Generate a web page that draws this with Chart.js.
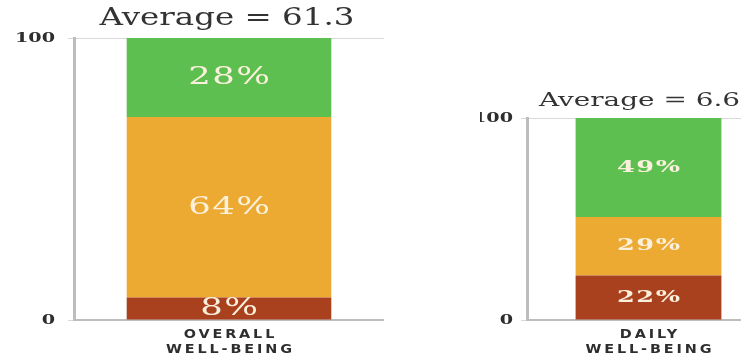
<!DOCTYPE html>
<html>
<head>
<meta charset="utf-8">
<script src="https://cdn.jsdelivr.net/npm/chart.js@4.4.1/dist/chart.umd.min.js"></script>
<style>
  html, body { margin: 0; padding: 0; background: #fff; overflow: hidden; }
  body { width: 741px; height: 357px; position: relative; }
  .box { position: absolute; top: 0; height: 357px; }
  #overall-box { left: 0; width: 384px; }
  #daily-box { left: 480px; width: 290px; }
</style>
</head>
<body>
<div class="box" id="overall-box"><canvas id="overall-chart"></canvas></div>
<div class="box" id="daily-box"><canvas id="daily-chart"></canvas></div>

<script>
// Share of respondents per band, bottom to top: low, middle, high
const bands = ['Low', 'Middle', 'High'];
const bandColors = ['#a9411e', '#ecaa32', '#5dbf4f'];

const overallValues = [8, 64, 28];
const overallLabel = ['OVERALL', 'WELL-BEING'];
const overallTitle = 'Average = 61.3';

const dailyValues = [22, 29, 49];
const dailyLabel = ['DAILY', 'WELL-BEING'];
const dailyTitle = 'Average = 6.6';

const yTicks = [0, 100];

// Draws text stretched horizontally around (x, y)
function stretchText(ctx, text, x, y, font, color, sx, spacing) {
    ctx.save();
    ctx.translate(x, y);
    ctx.scale(sx, 1);
    ctx.font = font;
    ctx.fillStyle = color;
    ctx.textAlign = 'center';
    ctx.textBaseline = 'middle';
    ctx.letterSpacing = (spacing || 0) + 'px';
    // letterSpacing adds a trailing gap, shift back by half of it
    ctx.fillText(text, (spacing || 0) / 2, 0);
    ctx.restore();
}

// Titles, tick numbers, category names and segment percentages
const textPlugin = {
    id: 'wellbeingText',
    afterDatasetsDraw(chart) {
        const ctx = chart.ctx;
        const s = chart.options.plugins.wellbeingText;
        chart.data.datasets.forEach((ds, i) => {
            const bar = chart.getDatasetMeta(i).data[0];
            const mid = (bar.y + bar.base) / 2;
            stretchText(ctx, ds.data[0] + '%', bar.x, mid, s.valueFont, '#fbf0dc', s.valueStretch, 1);
        });
    },
    afterDraw(chart) {
        const ctx = chart.ctx;
        const s = chart.options.plugins.wellbeingText;
        const area = chart.chartArea;
        const x = chart.scales.x;
        const y = chart.scales.y;
        const cx = x.getPixelForValue(0);

        stretchText(ctx, s.title, cx + s.titleShift, area.top - s.titleGap, s.titleFont, '#333', s.titleStretch, 0);

        yTicks.forEach(v => {
            const py = y.getPixelForValue(v);
            ctx.save();
            ctx.font = s.tickFont;
            const w = ctx.measureText(String(v)).width * s.tickStretch;
            ctx.restore();
            stretchText(ctx, String(v), area.left - s.tickGap - w / 2, py + 1, s.tickFont, '#2e2e2e', s.tickStretch, 0);
        });

        chart.data.labels[0].forEach((line, i) => {
            stretchText(ctx, line, cx, area.bottom + 15 + i * 15, 'bold 12px "DejaVu Sans"', '#2e2e2e', 1.2, 2.4);
        });
    }
};

function makeChart(id, values, label, opts) {
    const ctx = document.getElementById(id).getContext('2d');
    return new Chart(ctx, {
        type: 'bar',
        data: {
            labels: [label],
            datasets: bands.map((b, i) => ({
                label: b,
                data: [values[i]],
                backgroundColor: bandColors[i],
                borderWidth: 0,
                barPercentage: 1,
                categoryPercentage: opts.barShare
            }))
        },
        options: {
            responsive: true,
            maintainAspectRatio: false,
            animation: false,
            layout: { padding: { top: opts.top, right: 0, left: 0, bottom: 0 } },
            plugins: {
                legend: { display: false },
                tooltip: { enabled: false },
                title: { display: false },
                wellbeingText: opts.text
            },
            scales: {
                x: {
                    stacked: true,
                    ticks: { display: false },
                    grid: { display: false },
                    border: { color: '#bdbdbd', width: 2 },
                    afterFit: scale => { scale.height = 37; }
                },
                y: {
                    stacked: true,
                    min: 0,
                    max: 100,
                    afterBuildTicks: scale => { scale.ticks = yTicks.map(v => ({ value: v })); },
                    ticks: { display: false },
                    grid: { color: '#d9d9d9', lineWidth: 1, tickLength: 6 },
                    border: { color: '#bdbdbd', width: 3 },
                    afterFit: scale => { scale.width = opts.axisLeft; }
                }
            }
        },
        plugins: [textPlugin]
    });
}

makeChart('overall-chart', overallValues, overallLabel, {
    top: 38,
    axisLeft: 74,
    barShare: 0.66,
    text: {
        title: overallTitle,
        titleFont: '25px "DejaVu Serif"',
        titleStretch: 1.3,
        titleShift: -2,
        titleGap: 20,
        tickFont: 'bold 12px "DejaVu Serif"',
        tickStretch: 1.6,
        tickGap: 19,
        valueFont: '25px "DejaVu Serif"',
        valueStretch: 1.42
    }
});

makeChart('daily-chart', dailyValues, dailyLabel, {
    top: 118,
    axisLeft: 47,
    barShare: 0.6,
    text: {
        title: dailyTitle,
        titleFont: '18px "DejaVu Serif"',
        titleStretch: 1.55,
        titleShift: -9,
        titleGap: 17,
        tickFont: 'bold 12px "DejaVu Serif"',
        tickStretch: 1.6,
        tickGap: 14,
        valueFont: 'bold 16px "DejaVu Serif"',
        valueStretch: 1.6
    }
});
</script>
</body>
</html>
